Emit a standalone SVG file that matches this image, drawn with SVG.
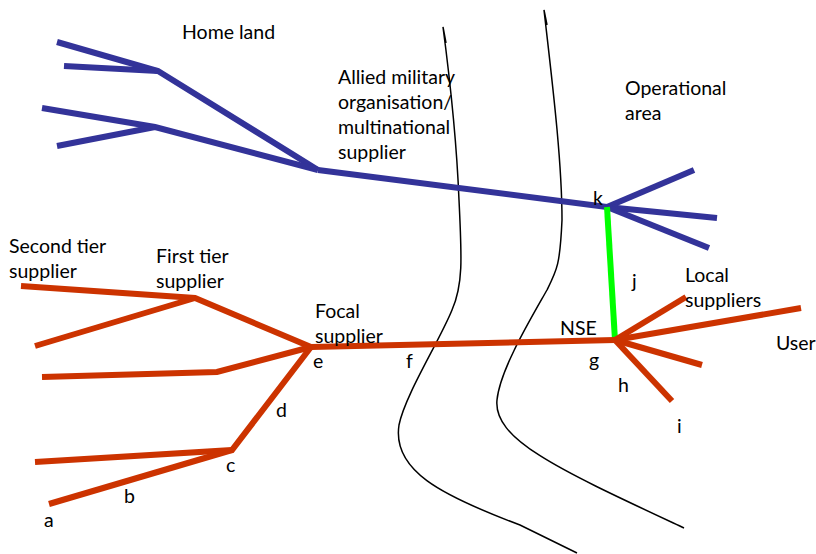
<svg xmlns="http://www.w3.org/2000/svg" width="816" height="554" viewBox="0 0 816 554">
  <style>
    .blue { stroke: #333399; stroke-width: 6; fill: none; stroke-linejoin: miter; }
    .red { stroke: #cc3300; stroke-width: 6; fill: none; stroke-linejoin: miter; }
    .green { stroke: #00ff00; stroke-width: 6; fill: none; }
    .border { stroke: #000; stroke-width: 1.5; fill: none; }
    text { font-family: Lato, "Open Sans", "Liberation Sans", sans-serif; font-size: 19.5px; fill: #000; }
  </style>
  <rect width="816" height="554" fill="#fff"/>

  <!-- border lines between home land, transit and operational area -->
  <g id="borders">
    <path class="border" d="M446,43 L443,27 C450,80 457,150 459,200 C462,260 463,285 452,310 C440,340 405,395 399,425 C392,470 440,495 520,525 L577,553"/>
    <path class="border" d="M547,25 L544,10 C552,80 562,160 562,220 C560,265 557,270 547,290 C530,320 500,370 497,400 C493,440 560,470 684,528"/>
  </g>

  <g id="connectors">
    <!-- home land supply tree -->
    <path class="blue" d="M57,42 L158,71 L318,170"/>
    <path class="blue" d="M64,66 L158,71"/>
    <path class="blue" d="M42,108 L155,127 L318,170"/>
    <path class="blue" d="M57,146 L155,127"/>
    <path class="blue" d="M318,170 L607,207"/>
    <path class="blue" d="M607,207 L694,170"/>
    <path class="blue" d="M607,207 L717,218"/>
    <path class="blue" d="M607,207 L709,248"/>
    <!-- link k to g -->
    <path class="green" d="M607,207 L615,340"/>
    <!-- focal supply tree -->
    <path class="red" d="M21,286 L195,298 L311,347"/>
    <path class="red" d="M35,346 L195,298"/>
    <path class="red" d="M42,377 L217,372 L311,347"/>
    <path class="red" d="M35,462 L232,450 L311,347"/>
    <path class="red" d="M49,504 L232,450"/>
    <path class="red" d="M311,347 L615,340"/>
    <path class="red" d="M615,340 L686,297"/>
    <path class="red" d="M615,340 L801,308"/>
    <path class="red" d="M615,340 L702,365"/>
    <path class="red" d="M615,340 L672,401"/>
  </g>

  <g id="home-land"><text x="182" y="39">Home land</text></g>
  <g id="allied">
    <text x="338" y="84">Allied military</text>
    <text x="338" y="109">organisation/</text>
    <text x="338" y="134">multinational</text>
    <text x="338" y="159">supplier</text>
  </g>
  <g id="operational-area">
    <text x="625" y="95">Operational</text>
    <text x="625" y="120">area</text>
  </g>
  <g id="second-tier">
    <text x="9" y="253">Second tier</text>
    <text x="9" y="278">supplier</text>
  </g>
  <g id="first-tier">
    <text x="156" y="263">First tier</text>
    <text x="156" y="288">supplier</text>
  </g>
  <g id="focal">
    <text x="315" y="318">Focal</text>
    <text x="315" y="343">supplier</text>
  </g>
  <g id="local">
    <text x="685" y="282">Local</text>
    <text x="685" y="307">suppliers</text>
  </g>
  <g id="user"><text x="776" y="350">User</text></g>
  <g id="nse"><text x="560" y="335">NSE</text></g>
  <g id="point-labels">
    <text x="44" y="527">a</text>
    <text x="124" y="503">b</text>
    <text x="226" y="472">c</text>
    <text x="276" y="417">d</text>
    <text x="313" y="368">e</text>
    <text x="406" y="368">f</text>
    <text x="589" y="367">g</text>
    <text x="618" y="392">h</text>
    <text x="677" y="433">i</text>
    <text x="632" y="288">j</text>
    <text x="593" y="205">k</text>
  </g>
</svg>
